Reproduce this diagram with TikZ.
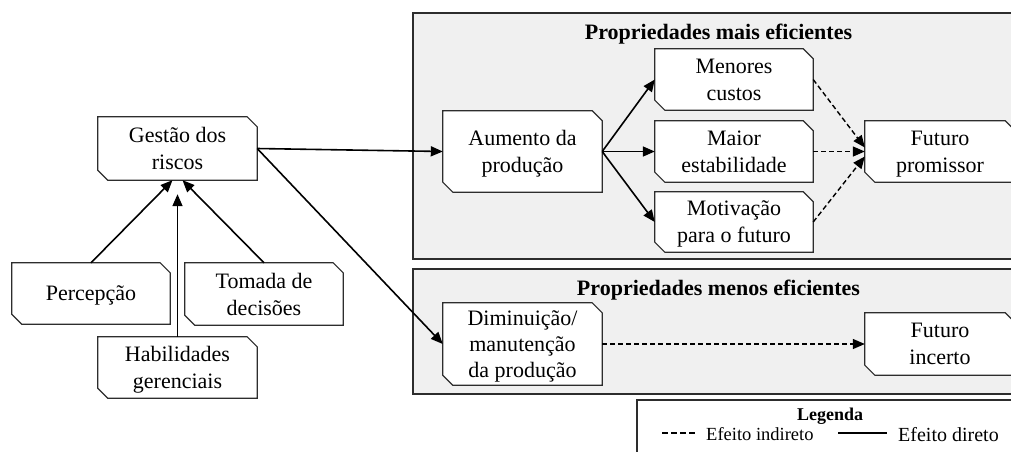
\documentclass[tikz,border=0pt]{standalone}
\usepackage{fontspec}
\setmainfont{Liberation Serif}
\usetikzlibrary{arrows.meta}
\pgfdeclarelayer{bg}
\pgfdeclarelayer{mid}
\pgfsetlayers{bg,mid,main}
\definecolor{panelgray}{RGB}{240,240,240}
\definecolor{edgegray}{RGB}{45,45,45}
\newcommand{\chamferbox}[2][10pt]{%
  \begin{pgfonlayer}{mid}
    \draw[boxline] (#2.north west) -- ([xshift=-#1]#2.north east) -- ([yshift=-#1]#2.north east)
      -- (#2.south east) -- ([xshift=#1]#2.south west) -- ([yshift=#1]#2.south west) -- cycle;
  \end{pgfonlayer}}
\begin{document}
\begin{tikzpicture}[x=1pt,y=-1pt,
  box/.style={inner sep=0pt, align=center, text depth=0pt, font=\fontsize{22}{27}\selectfont},
  boxline/.style={draw=edgegray, fill=white, line width=1.2pt, line join=miter},
  panel/.style={draw=edgegray, fill=panelgray, line width=1.3pt},
  conn/.style={line width=1.6pt, -{Triangle[length=12pt,width=10pt]}},
  indirect/.style={line width=1.4pt, dash pattern=on 5pt off 3pt, -{Triangle[length=12pt,width=10pt]}},
  ttl/.style={font=\bfseries\fontsize{22}{27}\selectfont, inner sep=0pt},
  legtext/.style={font=\fontsize{18.5}{22}\selectfont, inner sep=0pt}]
\useasboundingbox (0,0) rectangle (1011,451);

% panels
\begin{pgfonlayer}{bg}
  \draw[panel] (413,13) rectangle (1030,259);
  \draw[panel] (413,269) rectangle (1030,394);
  \draw[draw=edgegray, fill=white, line width=1.2pt] (637,400) rectangle (1030,470);
\end{pgfonlayer}

% titles
\node[ttl, anchor=base] (t1) at (718.5,39) {Propriedades mais eficientes};
\node[ttl, anchor=base] (t2) at (718.5,295) {Propriedades menos eficientes};

% nodes
\node[box, minimum width=159pt, minimum height=63pt] (gestao) at (177.5,148.5) {Gestão dos\\riscos};
\node[box, minimum width=158pt, minimum height=61pt] (percep) at (91,293.5) {Percepção};
\node[box, minimum width=158pt, minimum height=62pt] (tomada) at (264,294) {Tomada de\\decisões};
\node[box, minimum width=159pt, minimum height=61pt] (habil) at (177.5,367.5) {Habilidades\\gerenciais};
\node[box, minimum width=159pt, minimum height=81pt] (aumento) at (522.5,151.5) {Aumento da\\produção};
\node[box, minimum width=158pt, minimum height=61pt] (menores) at (734,79.5) {Menores\\custos};
\node[box, minimum width=158pt, minimum height=61pt] (maior) at (734,151.5) {Maior\\estabilidade};
\node[box, minimum width=158pt, minimum height=60pt] (motiv) at (734,222) {Motivação\\para o futuro};
\node[box, minimum width=150pt, minimum height=61pt] (promissor) at (940,151.5) {Futuro\\promissor};
\node[box, minimum width=159pt, minimum height=82pt, font=\fontsize{22}{26}\selectfont] (dimin) at (522.5,344) {Diminuição/\\manutenção\\da produção};
\node[box, minimum width=150pt, minimum height=62pt] (incerto) at (940,344) {Futuro\\incerto};

\foreach \n in {gestao,percep,tomada,habil,aumento,menores,maior,motiv,promissor,dimin,incerto}{\chamferbox{\n}}

% connectors
\draw[conn] (percep.north) -- ([xshift=-5pt]gestao.south);
\draw[conn] (tomada.north) -- ([xshift=5pt]gestao.south);
\draw[conn, shorten >=14pt] (habil.north) -- (gestao.south);
\draw[conn] (gestao.east) -- (aumento.west);
\draw[conn] (gestao.east) -- (dimin.west);
\draw[conn] (aumento.east) -- (menores.west);
\draw[conn] (aumento.east) -- (maior.west);
\draw[conn] (aumento.east) -- (motiv.west);
\draw[indirect] (menores.east) -- ([yshift=4pt]promissor.west);
\draw[indirect] (maior.east) -- (promissor.west);
\draw[indirect] (motiv.east) -- ([yshift=-5pt]promissor.west);
\draw[indirect] (dimin.east) -- (incerto.west);

% legend
\node[legtext, font=\bfseries\fontsize{18}{22}\selectfont, anchor=base] (leg) at (830,420) {Legenda};
\coordinate (da) at (662,433);
\coordinate (db) at (697,433);
\draw[line width=2.2pt, dash pattern=on 6pt off 3pt] (da) -- (db);
\node[legtext, anchor=base west] (lind) at (706,440) {Efeito indireto};
\coordinate (sa) at (838,433);
\coordinate (sb) at (887,433);
\draw[line width=2.2pt] (sa) -- (sb);
\node[legtext, font=\fontsize{20}{24}\selectfont, anchor=base west] (ldir) at (898,441) {Efeito direto};
\end{tikzpicture}
\end{document}
